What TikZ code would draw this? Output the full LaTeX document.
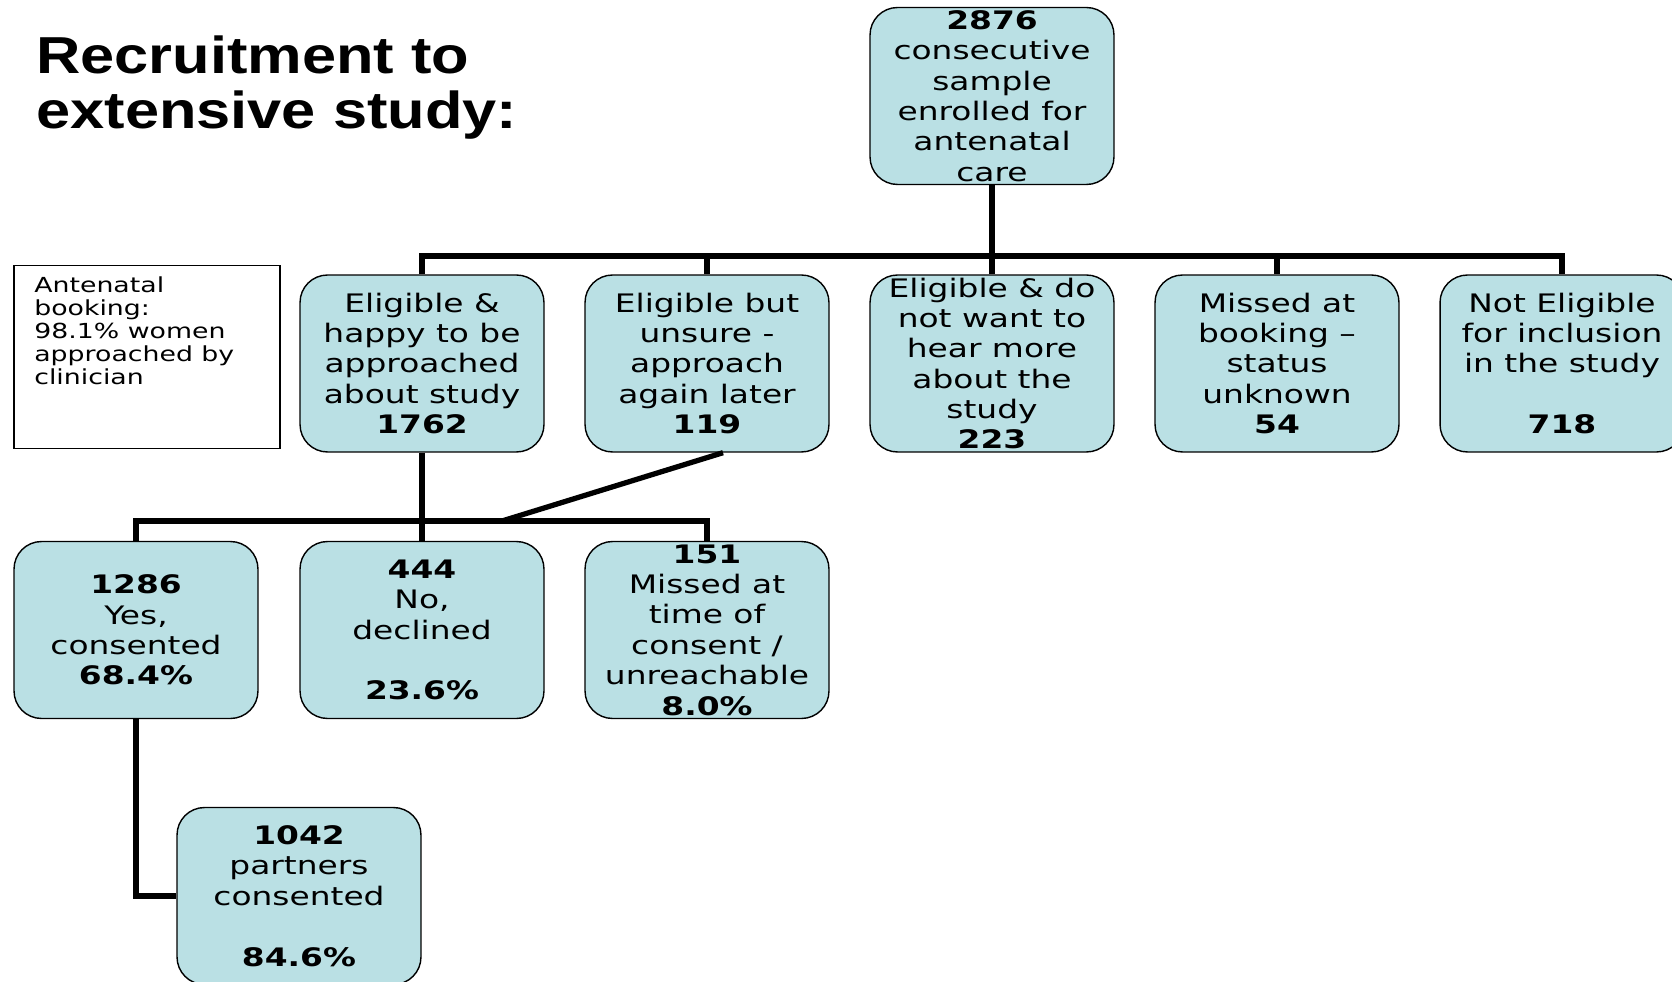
\documentclass[tikz,border=0pt]{standalone}
\usepackage{fontspec}
\setmainfont{DejaVu Sans}[FakeStretch=1.29]
\newfontfamily\titlefont{Liberation Sans}[FakeStretch=1.18]
\definecolor{boxblue}{RGB}{186,224,228}
\newcommand{\boxfont}{\fontsize{14.5}{17.3}\selectfont}
\newcommand{\notefont}{\fontsize{11.8}{13.2}\selectfont}
\newcommand{\headfont}{\titlefont\bfseries\fontsize{29.6}{31.6}\selectfont}
\begin{document}
\begin{tikzpicture}[x=0.02cm, y=-0.02cm,
  stage/.style={draw=black, line width=0.8pt, fill=boxblue, rounded corners=0.55cm,
    minimum width=4.88cm, minimum height=3.54cm, inner sep=0pt, align=center, font=\boxfont},
  link/.style={draw=black, line width=3pt}]
\clip (0,0) rectangle (1672,982);
\node (title) at (36, 35) [anchor=north west, inner sep=0pt, align=left, font=\headfont] {Recruitment to\\extensive study:};
\node (note) at (147, 357) [draw, line width=0.8pt, minimum width=5.32cm, minimum height=3.67cm] {};
\node (notetxt) at (34, 276) [anchor=north west, inner sep=0pt, align=left, font=\notefont] {Antenatal\\booking:\\98.1\% women\\approached by\\clinician};
\node (n0) at (992, 96) [stage] {\textbf{2876}\\consecutive\\sample\\enrolled for\\antenatal\\care};
\node (n1) at (422, 363.5) [stage] {Eligible \&\\happy to be\\approached\\about study\\\textbf{1762}};
\node (n2) at (707, 363.5) [stage] {Eligible but\\unsure -\\approach\\again later\\\textbf{119}};
\node (n3) at (992, 363.5) [stage] {Eligible \& do\\not want to\\hear more\\about the\\study\\\textbf{223}};
\node (n4) at (1277, 363.5) [stage] {Missed at\\booking –\\status\\unknown\\\textbf{54}};
\node (n5) at (1562, 363.5) [stage] {Not Eligible\\for inclusion\\in the study\\~\\\textbf{718}};
\node (n6) at (136, 630) [stage] {\textbf{1286}\\Yes,\\consented\\\textbf{68.4\%}};
\node (n7) at (422, 630) [stage] {\textbf{444}\\No,\\declined\\~\\\textbf{23.6\%}};
\node (n8) at (707, 630) [stage] {\textbf{151}\\Missed at\\time of\\consent /\\unreachable\\\textbf{8.0\%}};
\node (n9) at (299, 896) [stage] {\textbf{1042}\\partners\\consented\\~\\\textbf{84.6\%}};
\coordinate (j1) at (992, 256);
\coordinate (j2) at (422, 521);
\coordinate (j3) at (502, 521);
\draw[link] (n0.south) -- (j1);
\draw[link] (n1.north) |- (j1) -| (n5.north);
\draw[link] (n2.north) -- (n2.north |- j1);
\draw[link] (n3.north) -- (j1);
\draw[link] (n4.north) -- (n4.north |- j1);
\draw[link] (n1.south) -- (n7.north);
\draw[link] (n6.north) |- (j2) -| (n8.north);
\draw[link] ([xshift=0.32cm]n2.south) -- (j3);
\draw[link] (n6.south) |- (n9.west);
\end{tikzpicture}
\end{document}
